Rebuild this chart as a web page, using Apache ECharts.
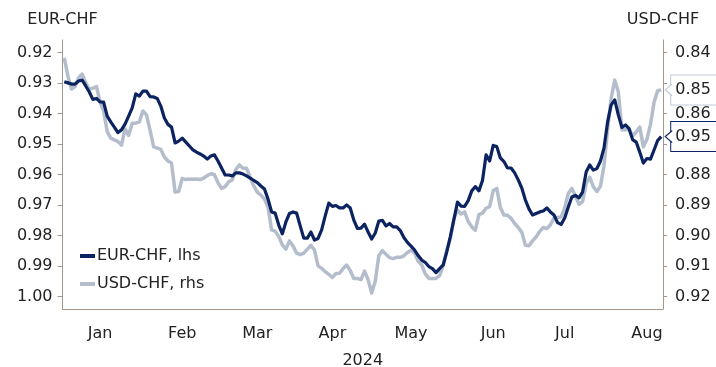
<!DOCTYPE html>
<html>
<head>
<meta charset="utf-8">
<script src="https://cdn.jsdelivr.net/npm/echarts@6/dist/echarts.min.js"></script>
<style>
  html, body { margin: 0; padding: 0; background: #fff; }
  #J-chf { width: 716px; height: 367px; }
</style>
</head>
<body>
<div id="J-chf"></div>
<script>
// business days Jan 1 - Aug 21 2024 (categories)
const startDay = '2024-01-01';
const dayCount = 168;
const monthNames = ['Jan', 'Feb', 'Mar', 'Apr', 'May', 'Jun', 'Jul', 'Aug', 'Sep', 'Oct', 'Nov', 'Dec'];

// EUR-CHF, left axis (inverted)
const eurChf = [
    0.9295, 0.9299, 0.9303, 0.9303, 0.9293, 0.9290, 0.9309, 0.9329, 0.9353, 0.9350,
    0.9361, 0.9362, 0.9408, 0.9427, 0.9444, 0.9462, 0.9453, 0.9434, 0.9408, 0.9381,
    0.9335, 0.9342, 0.9326, 0.9326, 0.9344, 0.9345, 0.9350, 0.9375, 0.9414, 0.9435,
    0.9444, 0.9496, 0.9490, 0.9480, 0.9493, 0.9506, 0.9519, 0.9526, 0.9532, 0.9539,
    0.9549, 0.9539, 0.9535, 0.9555, 0.9578, 0.9601, 0.9601, 0.9604, 0.9594, 0.9594,
    0.9598, 0.9604, 0.9611, 0.9619, 0.9626, 0.9637, 0.9647, 0.9680, 0.9722, 0.9726,
    0.9765, 0.9794, 0.9755, 0.9727, 0.9722, 0.9726, 0.9768, 0.9808, 0.9808, 0.9788,
    0.9814, 0.9809, 0.9781, 0.9735, 0.9693, 0.9704, 0.9701, 0.9709, 0.9709, 0.9699,
    0.9709, 0.9749, 0.9776, 0.9775, 0.9762, 0.9788, 0.9811, 0.9791, 0.9752, 0.9750,
    0.9768, 0.9760, 0.9771, 0.9771, 0.9783, 0.9806, 0.9822, 0.9834, 0.9847, 0.9865,
    0.9880, 0.9888, 0.9901, 0.9908, 0.9921, 0.9908, 0.9896, 0.9853, 0.9803, 0.9747,
    0.9690, 0.9703, 0.9704, 0.9685, 0.9653, 0.9639, 0.9653, 0.9619, 0.9535, 0.9555,
    0.9504, 0.9508, 0.9545, 0.9557, 0.9578, 0.9578, 0.9594, 0.9617, 0.9644, 0.9683,
    0.9712, 0.9732, 0.9727, 0.9722, 0.9719, 0.9709, 0.9722, 0.9732, 0.9757, 0.9763,
    0.9742, 0.9706, 0.9673, 0.9668, 0.9676, 0.9657, 0.9591, 0.9568, 0.9585, 0.9580,
    0.9555, 0.9512, 0.9427, 0.9371, 0.9355, 0.9404, 0.9445, 0.9437, 0.9449, 0.9485,
    0.9493, 0.9526, 0.9562, 0.9547, 0.9549, 0.9519, 0.9488, 0.9475
];

// USD-CHF, right axis (inverted)
const usdChf = [
    0.8417, 0.8476, 0.8519, 0.8511, 0.8483, 0.8470, 0.8499, 0.8520, 0.8516, 0.8511,
    0.8561, 0.8591, 0.8658, 0.8680, 0.8686, 0.8691, 0.8703, 0.8650, 0.8671, 0.8631,
    0.8631, 0.8627, 0.8591, 0.8604, 0.8655, 0.8709, 0.8713, 0.8717, 0.8742, 0.8755,
    0.8762, 0.8857, 0.8855, 0.8812, 0.8816, 0.8814, 0.8815, 0.8814, 0.8816, 0.8811,
    0.8803, 0.8797, 0.8800, 0.8826, 0.8845, 0.8839, 0.8823, 0.8817, 0.8783, 0.8768,
    0.8779, 0.8779, 0.8808, 0.8837, 0.8857, 0.8867, 0.8880, 0.8906, 0.8981, 0.8985,
    0.9003, 0.9030, 0.9044, 0.9017, 0.9034, 0.9057, 0.9062, 0.9057, 0.9044, 0.9032,
    0.9047, 0.9099, 0.9107, 0.9118, 0.9127, 0.9137, 0.9124, 0.9123, 0.9108, 0.9096,
    0.9114, 0.9140, 0.9140, 0.9144, 0.9116, 0.9144, 0.9188, 0.9149, 0.9065, 0.9049,
    0.9061, 0.9072, 0.9075, 0.9071, 0.9071, 0.9066, 0.9055, 0.9048, 0.9057, 0.9084,
    0.9096, 0.9125, 0.9140, 0.9140, 0.9140, 0.9131, 0.9098, 0.9047, 0.9011, 0.8944,
    0.8916, 0.8929, 0.8922, 0.8953, 0.8971, 0.8982, 0.8931, 0.8926, 0.8910, 0.8905,
    0.8852, 0.8845, 0.8908, 0.8932, 0.8933, 0.8943, 0.8960, 0.8973, 0.8989, 0.9031,
    0.9033, 0.9017, 0.9004, 0.8986, 0.8973, 0.8977, 0.8964, 0.8942, 0.8940, 0.8939,
    0.8909, 0.8862, 0.8845, 0.8870, 0.8897, 0.8888, 0.8829, 0.8808, 0.8839, 0.8855,
    0.8838, 0.8770, 0.8652, 0.8549, 0.8490, 0.8528, 0.8653, 0.8653, 0.8649, 0.8673,
    0.8660, 0.8644, 0.8708, 0.8684, 0.8635, 0.8562, 0.8525, 0.8522
];

const eurTicks = [0.92, 0.93, 0.94, 0.95, 0.96, 0.97, 0.98, 0.99, 1.00];
const usdTicks = [0.84, 0.85, 0.86, 0.87, 0.88, 0.89, 0.90, 0.91, 0.92];

const NAVY = '#0c2361';
const GREY = '#b4bdcc';
const GREY_BOX = '#c3cad8';
const AXIS = '#a5968a';
const TEXT = '#222';
const FONT = 'DejaVu Sans';

const dates = [];
{
    const d = new Date(startDay + 'T00:00:00Z');
    while (dates.length < dayCount) {
        const wd = d.getUTCDay();
        if (wd !== 0 && wd !== 6) dates.push(d.toISOString().slice(0, 10));
        d.setUTCDate(d.getUTCDate() + 1);
    }
}
const month = s => +s.slice(5, 7);
const day = s => +s.slice(8, 10);
// first business day of each month -> tick, first day >= 15th -> label
const isMonthStart = i => i === 0 || month(dates[i]) !== month(dates[i - 1]);
const isMidMonth = i => day(dates[i]) >= 15 && (i === 0 || day(dates[i - 1]) < 15 || month(dates[i]) !== month(dates[i - 1]));

const lastDate = dates[dates.length - 1];

// callout box at the end of a line, with a small '<' notch towards the axis
function callout(color) {
    return {
        show: true,
        formatter: p => p.value.toFixed(2),
        distance: 10,
        fontSize: 16,
        color: TEXT,
        backgroundColor: '#fff',
        borderColor: color,
        borderWidth: 1,
        padding: [7, 24, 6, 4]
    };
}
function notch(color, values) {
    return {
        silent: true,
        z: 20,
        symbol: 'path://M10,0 L0,6 L10,12',
        symbolSize: [7, 12],
        symbolOffset: [7.5, 0],
        itemStyle: { color: '#fff', borderColor: color, borderWidth: 1 },
        label: { show: false },
        data: [{ coord: [lastDate, values[values.length - 1]] }]
    };
}

const option = {
    animation: false,
    textStyle: { fontFamily: FONT },
    grid: {
        left: 62.5,
        right: 53,
        top: 40,
        bottom: 58,
        outerBoundsMode: 'none'
    },
    legend: {
        orient: 'vertical',
        left: 80,
        top: 248,
        padding: 0,
        itemWidth: 15,
        itemHeight: 4,
        itemGap: 12,
        icon: 'rect',
        data: ['EUR-CHF, lhs', 'USD-CHF, rhs'],
        textStyle: { fontSize: 16, color: TEXT, fontFamily: FONT, padding: [0, 0, 0, -3] }
    },
    xAxis: {
        type: 'category',
        data: dates,
        boundaryGap: true,
        name: '2024',
        nameLocation: 'middle',
        nameGap: 44,
        nameTextStyle: { fontSize: 16, color: TEXT, fontFamily: FONT },
        axisLine: { lineStyle: { color: AXIS, width: 1 } },
        axisTick: {
            length: 4,
            interval: (i) => isMonthStart(i),
            lineStyle: { color: AXIS }
        },
        axisLabel: {
            interval: (i) => isMidMonth(i),
            formatter: v => monthNames[month(v) - 1],
            fontSize: 16,
            color: TEXT,
            margin: 17
        },
        splitLine: { show: false }
    },
    yAxis: [
        {
            type: 'value',
            inverse: true,
            min: 0.91584,
            max: 1.00403,
            name: 'EUR-CHF',
            nameLocation: 'start',
            nameGap: 12,
            nameTextStyle: { fontSize: 16, color: TEXT, fontFamily: FONT, align: 'center' },
            axisLine: { show: true, lineStyle: { color: AXIS, width: 1 } },
            axisTick: { show: true, length: 5, customValues: eurTicks, lineStyle: { color: AXIS } },
            axisLabel: {
                customValues: eurTicks,
                formatter: v => v.toFixed(2),
                fontSize: 16,
                color: TEXT,
                margin: 10
            },
            splitLine: { show: false }
        },
        {
            type: 'value',
            inverse: true,
            min: 0.83584,
            max: 0.92403,
            name: 'USD-CHF',
            nameLocation: 'start',
            nameGap: 12,
            nameTextStyle: { fontSize: 16, color: TEXT, fontFamily: FONT, align: 'center' },
            axisLine: { show: true, lineStyle: { color: AXIS, width: 1 } },
            axisTick: { show: true, length: 4, customValues: usdTicks, lineStyle: { color: AXIS } },
            axisLabel: {
                customValues: usdTicks,
                formatter: v => v.toFixed(2),
                fontSize: 16,
                color: TEXT,
                margin: 12
            },
            splitLine: { show: false }
        }
    ],
    series: [
        {
            name: 'USD-CHF, rhs',
            type: 'line',
            yAxisIndex: 1,
            data: usdChf,
            showSymbol: false,
            z: 2,
            color: GREY,
            lineStyle: { width: 3.5, color: GREY, join: 'round' },
            endLabel: callout(GREY_BOX),
            markPoint: notch(GREY_BOX, usdChf)
        },
        {
            name: 'EUR-CHF, lhs',
            type: 'line',
            yAxisIndex: 0,
            data: eurChf,
            showSymbol: false,
            z: 3,
            color: NAVY,
            lineStyle: { width: 3.2, color: NAVY, join: 'round' },
            endLabel: callout(NAVY),
            markPoint: notch(NAVY, eurChf)
        }
    ]
};

const chart = echarts.init(document.getElementById('J-chf'));
chart.setOption(option);
</script>
</body>
</html>
